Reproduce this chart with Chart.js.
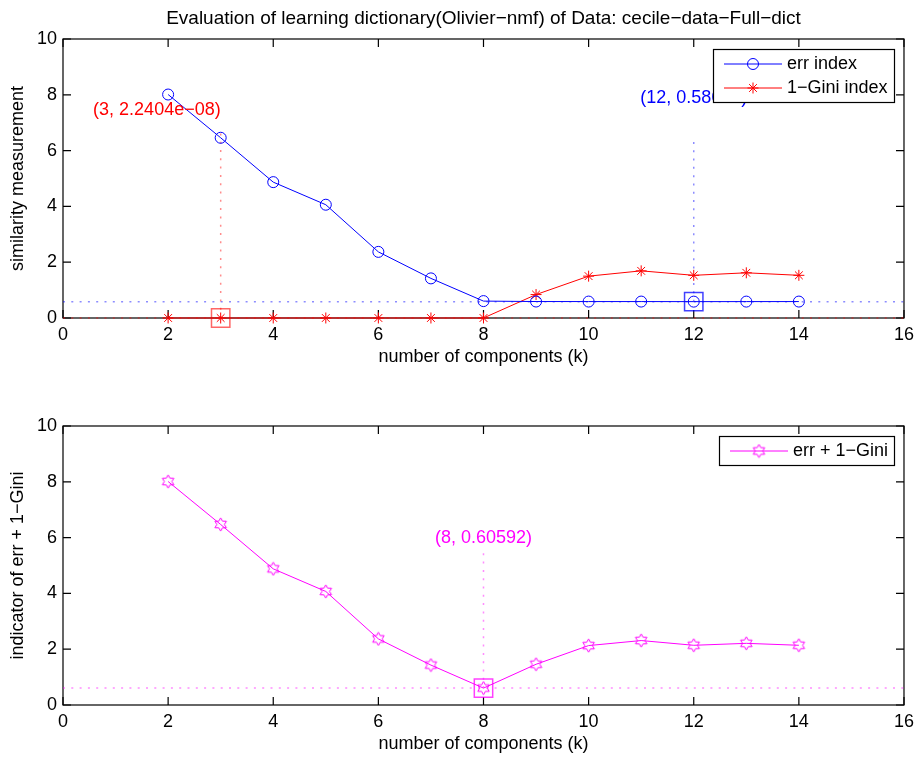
<!DOCTYPE html>
<html>
<head>
<meta charset="utf-8">
<script src="https://cdn.jsdelivr.net/npm/chart.js@4/dist/chart.umd.min.js"></script>
<style>
body{margin:0;background:#fff;}
#wrap{position:relative;width:920px;height:758px;}
canvas{position:absolute;left:0;}
</style>
</head>
<body>
<div id="wrap">
<canvas id="topChart" width="920" height="380" style="top:0;width:920px;height:380px"></canvas>
<canvas id="bottomChart" width="920" height="379" style="top:379px;width:920px;height:379px"></canvas>
</div>
<script>
// data
const components = [2, 3, 4, 5, 6, 7, 8, 9, 10, 11, 12, 13, 14]
const errIndex = [8.01, 6.46, 4.87, 4.06, 2.37, 1.42, 0.6059, 0.590, 0.589, 0.589, 0.58667, 0.588, 0.589]
const giniIndex = [0.0004, 2.2404e-8, 0.0003, 0.0002, 0.0002, 0.0003, 0.0001, 0.84, 1.50, 1.69, 1.53, 1.62, 1.53]
const errPlusGini = [8.01, 6.47, 4.88, 4.07, 2.37, 1.43, 0.60592, 1.46, 2.13, 2.31, 2.14, 2.21, 2.14]

// minimum of each curve and the top of its dotted guide
const errMin = {k: 12, v: 0.58667, guideTop: 6.44, label: '(12, 0.58667)', labelY: 7.89}
const giniMin = {k: 3, v: 2.2404e-8, guideTop: 6.74, label: '(3, 2.2404e\u221208)', labelY: 7.46}
const sumMin = {k: 8, v: 0.60592, guideTop: 5.50, label: '(8, 0.60592)', labelY: 5.98}

const xTicks = {min: 0, max: 16, step: 2}
const yTicks = {min: 0, max: 10, step: 2}

const FONT = "'Liberation Sans', Arial, sans-serif"
const BLUE = '#0000ff', RED = '#ff0000', MAGENTA = '#ff00ff'

const points = (xs, ys) => xs.map((x, i) => ({x: x, y: ys[i]}))

function hexagram(color) {
    const c = document.createElement('canvas')
    c.width = c.height = 15
    const g = c.getContext('2d')
    g.strokeStyle = color
    g.lineWidth = 1
    g.beginPath()
    for (let i = 0; i < 12; i++) {
        const r = i % 2 ? 3.8 : 6.6
        const a = -Math.PI / 2 + i * Math.PI / 6
        g.lineTo(7.5 + r * Math.cos(a), 7.5 + r * Math.sin(a))
    }
    g.closePath()
    g.stroke()
    return c
}

const series = function(label, data, color, style, radius) {
    return {
        label: label, data: data, inLegend: true,
        borderColor: color, borderWidth: 1,
        pointStyle: style, pointRadius: radius, pointBorderColor: color,
        pointBackgroundColor: 'rgba(0,0,0,0)', pointBorderWidth: 1,
        clip: false
    }
}

const guide = function(data, color) {
    return {
        data: data, borderColor: color, borderWidth: 1.5, borderDash: [2, 6.3],
        pointRadius: 0, clip: false
    }
}

const minSquare = function(m, color) {
    return {
        data: [{x: m.k, y: m.v}], showLine: false, pointStyle: 'rect', pointRadius: 13,
        pointBorderColor: color, pointBackgroundColor: 'rgba(0,0,0,0)', pointBorderWidth: 1.5,
        clip: false
    }
}

const minGuides = function(m, color) {
    return [
        guide([{x: xTicks.min, y: m.v}, {x: xTicks.max, y: m.v}], color),
        guide([{x: m.k, y: m.v}, {x: m.k, y: m.guideTop}], color)
    ]
}

// box, inward ticks
const frame = {
    id: 'frame',
    beforeDatasetsDraw(chart) {
        const {ctx, chartArea: a, scales} = chart
        ctx.save()
        ctx.strokeStyle = '#000'
        ctx.lineWidth = 1.2
        ctx.strokeRect(a.left, a.top, a.right - a.left, a.bottom - a.top)
        ctx.beginPath()
        scales.x.ticks.forEach(t => {
            const px = scales.x.getPixelForValue(t.value)
            ctx.moveTo(px, a.bottom); ctx.lineTo(px, a.bottom - 8)
            ctx.moveTo(px, a.top); ctx.lineTo(px, a.top + 8)
        })
        scales.y.ticks.forEach(t => {
            const py = scales.y.getPixelForValue(t.value)
            ctx.moveTo(a.left, py); ctx.lineTo(a.left + 8, py)
            ctx.moveTo(a.right, py); ctx.lineTo(a.right - 8, py)
        })
        ctx.stroke()
        ctx.restore()
    }
}

const notes = {
    id: 'notes',
    afterDatasetsDraw(chart, args, opts) {
        const {ctx, scales} = chart
        ctx.save()
        ctx.font = '18px ' + FONT
        ctx.textBaseline = 'middle'
        opts.items.forEach(n => {
            ctx.fillStyle = n.color
            ctx.textAlign = n.align
            ctx.fillText(n.text, scales.x.getPixelForValue(n.x), scales.y.getPixelForValue(n.y))
        })
        ctx.restore()
    }
}

const boxLegend = {
    id: 'boxLegend',
    afterDraw(chart) {
        const items = chart.data.datasets.filter(d => d.inLegend)
        const ctx = chart.ctx, area = chart.chartArea
        ctx.save()
        ctx.font = '18px ' + FONT
        const textW = Math.max(...items.map(d => ctx.measureText(d.label).width))
        const w = Math.round(11 + 58 + 5 + textW + 6)
        const h = items.length * 24 + 5
        const left = Math.round(area.right - 10 - w), top = Math.round(area.top + 10)
        ctx.fillStyle = '#fff'
        ctx.fillRect(left, top, w, h)
        ctx.strokeStyle = '#000'
        ctx.lineWidth = 1.2
        ctx.strokeRect(left + 0.5, top + 0.5, w, h)
        items.forEach((d, i) => {
            const y = top + 15 + i * 24
            ctx.strokeStyle = d.borderColor
            ctx.lineWidth = d.borderWidth
            ctx.beginPath(); ctx.moveTo(left + 11, y); ctx.lineTo(left + 69, y); ctx.stroke()
            ctx.fillStyle = d.pointBackgroundColor
            ctx.strokeStyle = d.pointBorderColor
            ctx.lineWidth = d.pointBorderWidth
            Chart.helpers.drawPoint(ctx, {pointStyle: d.pointStyle, radius: d.pointRadius, rotation: 0, borderWidth: d.pointBorderWidth}, left + 40, y)
            ctx.fillStyle = '#000'
            ctx.textBaseline = 'middle'
            ctx.textAlign = 'left'
            ctx.fillText(d.label, left + 74, y)
        })
        ctx.restore()
    }
}

const makeChart = function(id, datasets, yTitle, noteItems, layout) {
    const txt = {family: FONT, size: 18}
    return new Chart(document.getElementById(id), {
        type: 'line',
        data: {datasets: datasets},
        options: {
            responsive: false,
            animation: false,
            layout: {padding: {top: layout.padTop, left: 0, right: 13, bottom: 0}},
            scales: {
                x: {
                    type: 'linear', min: xTicks.min, max: xTicks.max,
                    ticks: {stepSize: xTicks.step, color: '#000', font: txt, padding: 6, maxRotation: 0},
                    grid: {display: false, drawTicks: false},
                    border: {display: false},
                    title: {display: true, text: 'number of components (k)', color: '#000', font: txt,
                            padding: {top: 0, bottom: layout.xTitleBottom}},
                    afterFit: s => { s.height = layout.xAxisH }
                },
                y: {
                    type: 'linear', min: yTicks.min, max: yTicks.max,
                    ticks: {stepSize: yTicks.step, color: '#000', font: txt, padding: 6},
                    grid: {display: false, drawTicks: false},
                    border: {display: false},
                    title: {display: true, text: yTitle, color: '#000', font: txt, padding: {top: 7.7, bottom: 0}},
                    afterFit: s => { s.width = 63 }
                }
            },
            plugins: {
                legend: {display: false},
                tooltip: {enabled: false},
                title: layout.title ? {
                    display: true, text: layout.title, fullSize: false, color: '#000',
                    font: {family: FONT, size: 19, weight: 'normal'}, padding: {top: 7.8, bottom: 8.4}
                } : {display: false},
                notes: {items: noteItems}
            }
        },
        plugins: [frame, notes, boxLegend]
    })
}

makeChart('topChart', [
    series('err index', points(components, errIndex), BLUE, 'circle', 5.5),
    series('1\u2212Gini index', points(components, giniIndex), RED, 'star', 5.5),
    minSquare(errMin, 'rgba(0,0,255,0.75)'),
    minSquare(giniMin, 'rgba(255,0,0,0.6)'),
    ...minGuides(errMin, 'rgba(0,0,255,0.45)'),
    ...minGuides(giniMin, 'rgba(255,0,0,0.45)')
], 'similarity measurement', [
    {x: giniMin.k, y: giniMin.labelY, text: giniMin.label, color: RED, align: 'right'},
    {x: errMin.k, y: errMin.labelY, text: errMin.label, color: BLUE, align: 'center'}
], {padTop: 0, xAxisH: 62, xTitleBottom: 12.5,
    title: 'Evaluation of learning dictionary(Olivier\u2212nmf) of Data: cecile\u2212data\u2212Full\u2212dict'})

makeChart('bottomChart', [
    series('err + 1\u2212Gini', points(components, errPlusGini), MAGENTA, hexagram(MAGENTA), 7),
    minSquare(sumMin, 'rgba(255,0,255,0.75)'),
    ...minGuides(sumMin, 'rgba(255,0,255,0.45)')
], 'indicator of err + 1\u2212Gini', [
    {x: sumMin.k, y: sumMin.labelY, text: sumMin.label, color: MAGENTA, align: 'center'}
], {padTop: 47, xAxisH: 53, xTitleBottom: 3.2, title: null})
</script>
</body>
</html>
